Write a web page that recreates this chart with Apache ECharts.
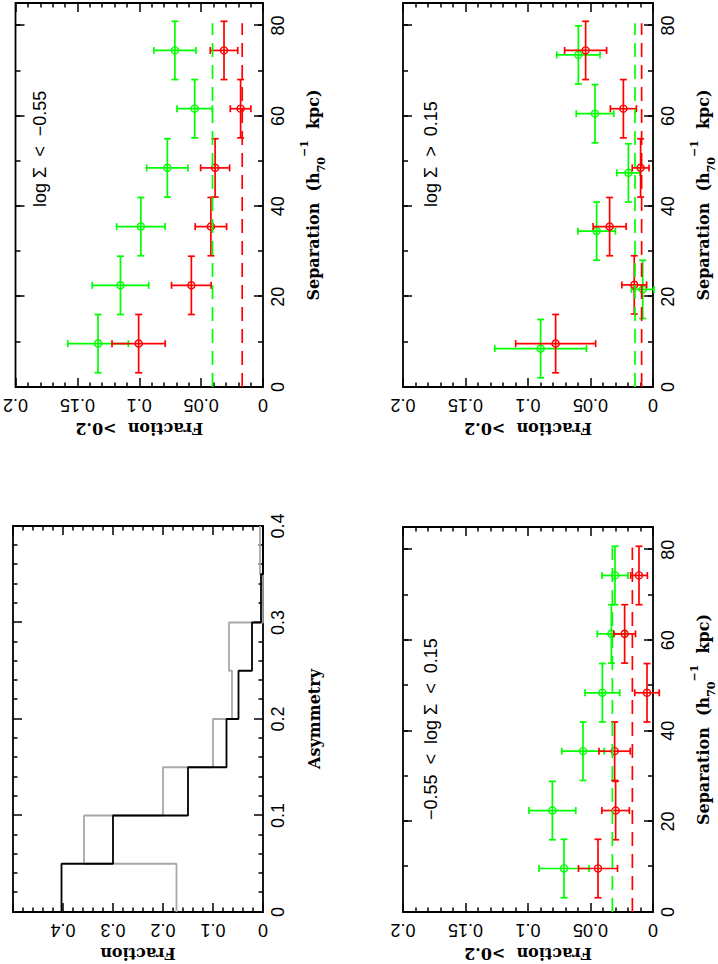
<!DOCTYPE html>
<html>
<head>
<meta charset="utf-8">
<script src="https://cdn.jsdelivr.net/npm/echarts@6/dist/echarts.min.js"></script>
<style>
  html, body { margin: 0; padding: 0; background: #fff; width: 718px; height: 964px; overflow: hidden; }
  /* the figure is a landscape page turned on its side */
  #chart { position: absolute; left: -123px; top: 123px; width: 964px; height: 718px; transform: rotate(-90deg); }
</style>
</head>
<body>
<div id="chart"></div>
<script>
// tick labels
const sepTicks = [0, 20, 40, 60, 80];
const fracTicks = [0, 0.05, 0.1, 0.15, 0.2];
const asymTicks = [0, 0.1, 0.2, 0.3, 0.4];
const histFracTicks = [0, 0.1, 0.2, 0.3, 0.4];

// asymmetry histogram
const asymEdges = [0, 0.05, 0.1, 0.15, 0.2, 0.25, 0.3, 0.35, 0.4];
const histBlack = [0.403, 0.300, 0.150, 0.073, 0.049, 0.022, 0.004, 0];
const histGray = [0.173, 0.358, 0.200, 0.100, 0.062, 0.068, 0, 0.006];

// half width of separation bins (kpc)
const binHalf = 6.45;

// log Σ < -0.55
const lowSepGreen = [9.6, 22.5, 35.5, 48.5, 61.6, 74.5];
const lowFracGreen = [0.1333, 0.1152, 0.0987, 0.0773, 0.0552, 0.0712];
const lowErrGreen = [0.0245, 0.0228, 0.0196, 0.0167, 0.0143, 0.0170];
const lowSepRed = [9.6, 22.5, 35.5, 48.5, 61.6, 74.5];
const lowFracRed = [0.1005, 0.0579, 0.0421, 0.0387, 0.0181, 0.0315];
const lowErrRed = [0.0215, 0.0160, 0.0127, 0.0117, 0.0083, 0.0111];
const lowMean = [0.0408, 0.0168]; // green, red

// -0.55 < log Σ < 0.15
const midSepGreen = [9.6, 22.4, 35.5, 48.4, 61.4, 74.3];
const midFracGreen = [0.0712, 0.0805, 0.0560, 0.0405, 0.0333, 0.0304];
const midErrGreen = [0.0200, 0.0187, 0.0170, 0.0139, 0.0113, 0.0104];
const midSepRed = [9.6, 22.4, 35.5, 48.4, 61.4, 74.3];
const midFracRed = [0.0440, 0.0299, 0.0307, 0.0048, 0.0227, 0.0112];
const midErrRed = [0.0156, 0.0110, 0.0125, 0.0098, 0.0087, 0.0067];
const midMean = [0.0325, 0.0165];

// log Σ > 0.15
const highSepGreen = [8.5, 21.6, 34.5, 47.4, 60.5, 73.5];
const highFracGreen = [0.0899, 0.0082, 0.0451, 0.0197, 0.0464, 0.0597];
const highErrGreen = [0.0367, 0.0090, 0.0150, 0.0093, 0.0150, 0.0173];
const highSepRed = [9.6, 22.6, 35.5, 48.5, 61.6, 74.5];
const highFracRed = [0.0779, 0.0150, 0.0347, 0.0099, 0.0237, 0.0539];
const highErrRed = [0.0320, 0.0099, 0.0132, 0.0067, 0.0104, 0.0168];
const highMean = [0.0144, 0.0091];

const meanRange = [0, 80.5];

const GREEN = '#00ff00', RED = '#ff0000';
const sans = 'Liberation Sans';
const serif = 'DejaVu Serif';

const isTick = (list, v) => list.some(t => Math.abs(t - v) < 1e-9);
const fmt = list => v => isTick(list, v) ? String(+(+v).toFixed(3)) : '';

const tickLine = { color: '#000', width: 1.5 };
const labelStyle = { fontFamily: sans, fontSize: 18, color: '#000' };
const nameStyle = { fontFamily: serif, fontWeight: 'bold', fontSize: 16, color: '#000' };

// grids, landscape coordinates
const grids = [
    { left: 52, top: 13, width: 386, height: 250 },   // histogram
    { left: 577, top: 13, width: 385, height: 250 },  // low
    { left: 52, top: 403, width: 385, height: 250 },  // mid
    { left: 577, top: 403, width: 385, height: 250 }  // high
].map(g => Object.assign(g, { show: true, borderColor: '#000', borderWidth: 1.8, backgroundColor: 'transparent' }));

const xAxis = [];
const yAxis = [];

function baseAxis(gi, pos, extra) {
    return Object.assign({
        gridIndex: gi, type: 'value', position: pos,
        axisLine: { show: false, onZero: false },
        splitLine: { show: false },
        axisTick: { inside: true, length: 9, lineStyle: tickLine },
        axisLabel: { show: false }
    }, extra);
}

// separation axis: major + minor ticks on bottom and top; returns index of labelled axis
function addSepAxes(gi) {
    const idx = xAxis.length;
    xAxis.push(baseAxis(gi, 'bottom', {
        min: 0, max: 85, interval: 20,
        axisLabel: Object.assign({ show: true, margin: 6, formatter: fmt(sepTicks) }, labelStyle),
        name: '{n|Separation  (h}{sub|70}{sup|−1}{n|  kpc)}',
        nameLocation: 'middle', nameGap: 36,
        nameTextStyle: Object.assign({
            rich: {
                n: Object.assign({ lineHeight: 28 }, nameStyle),
                sub: { fontFamily: serif, fontWeight: 'bold', fontSize: 11, color: '#000', verticalAlign: 'bottom', lineHeight: 13 },
                sup: { fontFamily: serif, fontWeight: 'bold', fontSize: 11, color: '#000', verticalAlign: 'top', lineHeight: 11 }
            }
        }, nameStyle)
    }));
    xAxis.push(baseAxis(gi, 'bottom', { min: 0, max: 85, interval: 10, axisTick: { inside: true, length: 5, lineStyle: tickLine } }));
    xAxis.push(baseAxis(gi, 'top', { min: 0, max: 85, interval: 20 }));
    xAxis.push(baseAxis(gi, 'top', { min: 0, max: 85, interval: 10, axisTick: { inside: true, length: 5, lineStyle: tickLine } }));
    return idx;
}

function addFracAxes(gi, max, ticks, name) {
    const idx = yAxis.length;
    const minor = { show: true, splitNumber: 5, length: 4.5, lineStyle: tickLine };
    const step = ticks[1] - ticks[0];
    yAxis.push(baseAxis(gi, 'left', {
        min: 0, max: max, interval: step, minorTick: minor,
        axisLabel: Object.assign({ show: true, rotate: 90, margin: 9, formatter: fmt(ticks) }, labelStyle),
        name: name, nameLocation: 'middle', nameRotate: 90, nameGap: 33,
        nameTextStyle: nameStyle
    }));
    yAxis.push(baseAxis(gi, 'right', { min: 0, max: max, interval: step, minorTick: minor }));
    return idx;
}

// histogram axes
const histX = xAxis.length;
xAxis.push(baseAxis(0, 'bottom', {
    min: 0, max: 0.4, interval: 0.1,
    minorTick: { show: true, splitNumber: 5, length: 4.5, lineStyle: tickLine },
    axisLabel: Object.assign({ show: true, margin: 6, formatter: fmt(asymTicks) }, labelStyle),
    name: 'Asymmetry', nameLocation: 'middle', nameGap: 43, nameTextStyle: nameStyle
}));
xAxis.push(baseAxis(0, 'top', {
    min: 0, max: 0.4, interval: 0.1,
    minorTick: { show: true, splitNumber: 5, length: 4.5, lineStyle: tickLine }
}));
const histY = addFracAxes(0, 0.5, histFracTicks, 'Fraction');

const panelAxes = [1, 2, 3].map(gi => ({ x: addSepAxes(gi), y: addFracAxes(gi, 0.2, fracTicks, 'Fraction  >0.2') }));

function errorRender(params, api) {
    const x = api.value(0), y = api.value(1), e = api.value(2);
    const color = api.visual('color');
    const c = api.coord([x, y]);
    const l = api.coord([x - binHalf, y]), r = api.coord([x + binHalf, y]);
    const b = api.coord([x, y - e]), t = api.coord([x, y + e]);
    const cap = 3.5;
    const st = { stroke: color, lineWidth: 1.7, fill: null };
    const seg = (x1, y1, x2, y2) => ({ type: 'line', shape: { x1, y1, x2, y2 }, style: st });
    return {
        type: 'group',
        children: [
            seg(l[0], l[1], r[0], r[1]),
            seg(l[0], l[1] - cap, l[0], l[1] + cap),
            seg(r[0], r[1] - cap, r[0], r[1] + cap),
            seg(b[0], b[1], t[0], t[1]),
            seg(b[0] - cap, b[1], b[0] + cap, b[1]),
            seg(t[0] - cap, t[1], t[0] + cap, t[1]),
            { type: 'circle', shape: { cx: c[0], cy: c[1], r: 3.6 }, style: { stroke: color, lineWidth: 1.4, fill: 'none' } }
        ]
    };
}

const zip3 = (a, b, c) => a.map((v, i) => [v, b[i], c[i]]);

function panelSeries(ax, sg, fg, eg, sr, fr, er, mean) {
    const common = { xAxisIndex: ax.x, yAxisIndex: ax.y, silent: true };
    return [
        Object.assign({ type: 'line', data: meanRange.map(s => [s, mean[0]]), symbol: 'none',
            lineStyle: { color: GREEN, width: 1.7, type: [14, 8] } }, common),
        Object.assign({ type: 'line', data: meanRange.map(s => [s, mean[1]]), symbol: 'none',
            lineStyle: { color: RED, width: 1.7, type: [14, 8] } }, common),
        Object.assign({ type: 'custom', renderItem: errorRender, clip: false, itemStyle: { color: GREEN },
            encode: { x: 0, y: 1 }, data: zip3(sg, fg, eg) }, common),
        Object.assign({ type: 'custom', renderItem: errorRender, clip: false, itemStyle: { color: RED },
            encode: { x: 0, y: 1 }, data: zip3(sr, fr, er) }, common)
    ];
}

const stepData = vals => asymEdges.map((e, i) => [e, vals[Math.min(i, vals.length - 1)]]);

const series = [
    { type: 'line', step: 'end', xAxisIndex: histX, yAxisIndex: histY, data: stepData(histGray), symbol: 'none',
      lineStyle: { color: '#a8a8a8', width: 1.8 }, silent: true },
    { type: 'line', step: 'end', xAxisIndex: histX, yAxisIndex: histY, data: stepData(histBlack), symbol: 'none',
      lineStyle: { color: '#000', width: 1.8 }, silent: true }
].concat(
    panelSeries(panelAxes[0], lowSepGreen, lowFracGreen, lowErrGreen, lowSepRed, lowFracRed, lowErrRed, lowMean),
    panelSeries(panelAxes[1], midSepGreen, midFracGreen, midErrGreen, midSepRed, midFracRed, midErrRed, midMean),
    panelSeries(panelAxes[2], highSepGreen, highFracGreen, highErrGreen, highSepRed, highFracRed, highErrRed, highMean)
);

const panelText = (x, y, text) => ({
    type: 'text', x: x, y: y,
    style: { text: text, fontFamily: sans, fontSize: 18, fill: '#000', verticalAlign: 'middle', align: 'left' }
});

const myChart = echarts.init(document.getElementById('chart'), null, { renderer: 'svg' });
myChart.setOption({
    backgroundColor: '#fff',
    animation: false,
    grid: grids,
    xAxis: xAxis,
    yAxis: yAxis,
    series: series,
    graphic: [
        panelText(757, 40, 'log Σ  <  −0.55'),
        panelText(144, 431, '−0.55  <  log Σ  <  0.15'),
        panelText(757, 431, 'log Σ  >  0.15')
    ]
});
</script>
</body>
</html>
